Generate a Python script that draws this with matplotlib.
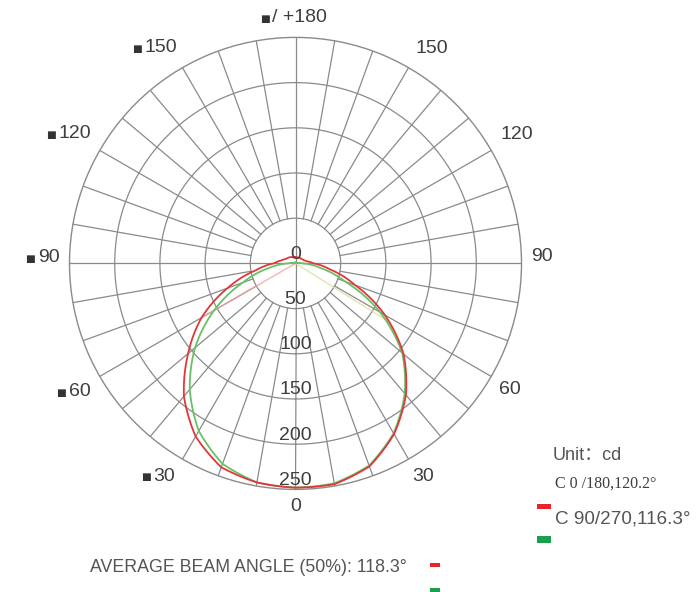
import numpy as np
import matplotlib
matplotlib.use("Agg")
import matplotlib.pyplot as plt
from matplotlib.patches import Rectangle

# ---------------- data ----------------
angles_deg = list(range(-180, 181, 10))
# C0/180 plane (red), cd
c0_180 = [7, 7, 7, 8, 9, 10, 11, 13, 17, 24, 45, 80, 120, 155, 192, 221, 240, 246,
          248,
          248, 239, 218, 190, 156, 114, 70, 39, 20, 13, 10, 9, 8, 8, 7, 7, 7, 7]
# C90/270 plane (green), cd
c90_270 = [1, 1, 1, 1, 1, 1, 1, 2, 3, 8, 30, 62, 104, 145, 182, 214, 236, 246,
           248,
           247, 238, 217, 188, 154, 108, 58, 27, 8, 3, 2, 1, 1, 1, 1, 1, 1, 1]
# half-beam (50%) points: (angle, cd)
half_beam_c0 = (-60, 120)
half_beam_c90 = (58, 124)

ring_values = [50, 100, 150, 200, 250]
ring_labels = ["0", "50", "100", "150", "200", "250"]
tick_angles = [0, 30, -30, 60, -60, 90, -90, 120, -120, 150, -150, 180]
tick_labels = ["0", "30", "30", "60", "60", "90", "90", "120", "120",
               "150", "150", "/ +180"]
tick_marked = [False, False, True, False, True, False, True, False, True,
               False, True, True]
series_labels = ["C 0 /180,120.2°", "C 90/270,116.3°"]
unit_text = "Unit：cd"
average_text = "AVERAGE BEAM ANGLE (50%): 118.3°"

# ---------------- style ----------------
plt.rcParams['font.family'] = ['Liberation Sans', 'DejaVu Sans', 'Noto Sans CJK SC']
RED = '#e2363a'
GREEN = '#66c266'
GRID = '#8a8a8a'
TXT = '#3e3e3e'
FS = 14

W, H = 697, 592
fig = plt.figure(figsize=(W / 100, H / 100), dpi=100)
cx, cy, R = 295.5, 263.4, 226.0
ax = fig.add_axes([(cx - R) / W, (H - cy - R) / H, 2 * R / W, 2 * R / H],
                  projection='polar')
ax.set_theta_zero_location('S')
ax.set_theta_direction(1)
ax.set_ylim(0, 250)
ax.set_xticks([])
ax.set_yticks([])
ax.grid(False)
ax.spines['polar'].set_color(GRID)
ax.spines['polar'].set_linewidth(1.0)

# rings
tt = np.linspace(0, 2 * np.pi, 721)
for rv in ring_values[:-1]:
    ax.plot(tt, np.full_like(tt, rv), color=GRID, lw=0.9, zorder=1)
# spokes every 10 degrees
for a in range(0, 360, 10):
    th = np.deg2rad(a)
    r0 = 0 if a % 90 == 0 else 50
    ax.plot([th, th], [r0, 250], color=GRID, lw=0.9, zorder=1)

# half-beam faint lines
for (a, v), col in ((half_beam_c0, '#f2a0a0'), (half_beam_c90, '#d9df9a')):
    th = np.deg2rad(a)
    ax.plot([th, th], [0, v], color=col, lw=1.0, alpha=0.8, zorder=2)

th_data = np.deg2rad(angles_deg)
for vals, col, z in ((c90_270, GREEN, 3), (c0_180, RED, 4)):
    ln, = ax.plot(th_data, vals, color=col, lw=1.3, zorder=z,
                  solid_joinstyle='round')
    ln.get_path()._interpolation_steps = 24

# ring labels
ax.text(np.pi, 10, ring_labels[0], ha='center', va='center',
        fontsize=FS, color=TXT, zorder=5)
for rv, lab in zip(ring_values, ring_labels[1:]):
    ax.text(0, rv - 10, lab, ha='center', va='center', fontsize=FS,
            color=TXT, zorder=5)

# angle labels (number centres)
label_pos = {0: (0, 269), 30: (31, 275), -30: (-31.7, 276.5), 60: (59.6, 275),
             -60: (-59.4, 277.5), 90: (91.5, 272.5), -90: (-91.3, 273),
             120: (120.3, 283.5), -120: (-120.4, 283), 150: (147.6, 281),
             -150: (-148, 281), 180: (179, 272)}
for a, lab, mk in zip(tick_angles, tick_labels, tick_marked):
    ta, tr = label_pos[a]
    t = ax.text(np.deg2rad(ta), tr, lab, ha='center', va='center',
                fontsize=FS, color=TXT, clip_on=False)
    if mk:
        ax.annotate("■", xy=(0, 0), xycoords=t, xytext=(-2.0, 1.5),
                    textcoords='offset points', ha='right', va='bottom',
                    fontsize=7.5, color='#333333', family='DejaVu Sans',
                    annotation_clip=False)

# legend
fig.text(553 / W, 1 - 456 / H, unit_text, ha='left', va='center',
         fontsize=13, color='#555555')
fig.text(555 / W, 1 - 484 / H, series_labels[0], ha='left', va='center',
         fontsize=11.5, color=TXT, family='Liberation Serif')
fig.text(555 / W, 1 - 518.5 / H, series_labels[1], ha='left', va='center',
         fontsize=13.6, color='#555555')
fig.add_artist(Rectangle((537 / W, 1 - 509 / H), 14 / W, 5 / H,
                         transform=fig.transFigure, color='#e8262a', lw=0))
fig.add_artist(Rectangle((537 / W, 1 - 543 / H), 14 / W, 7 / H,
                         transform=fig.transFigure, color='#1aa04a', lw=0))

fig.text(90 / W, 1 - 567 / H, average_text, ha='left', va='center',
         fontsize=12.8, color='#555555')
fig.add_artist(Rectangle((430 / W, 1 - 567 / H), 10 / W, 4 / H,
                         transform=fig.transFigure, color='#e8262a', lw=0))
fig.add_artist(Rectangle((430 / W, 1 - 593 / H), 10 / W, 5 / H,
                         transform=fig.transFigure, color='#1aa04a', lw=0))

fig.savefig('out.png', dpi=100)
